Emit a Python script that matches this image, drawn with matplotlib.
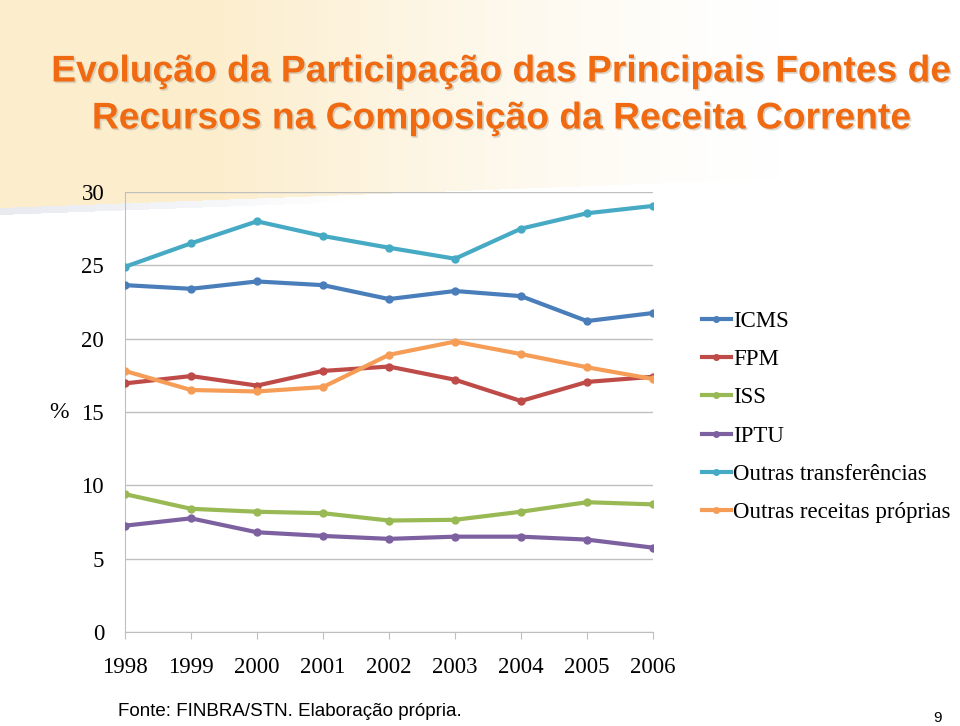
import numpy as np
import matplotlib
matplotlib.use("Agg")
import matplotlib.pyplot as plt
from matplotlib.lines import Line2D
import matplotlib.patheffects as pe

years = ["1998", "1999", "2000", "2001", "2002", "2003", "2004", "2005", "2006"]
icms = [23.65, 23.4, 23.9, 23.65, 22.7, 23.25, 22.9, 21.2, 21.75]
fpm = [16.95, 17.45, 16.8, 17.8, 18.1, 17.2, 15.75, 17.05, 17.4]
iss = [9.4, 8.4, 8.2, 8.1, 7.6, 7.65, 8.2, 8.85, 8.7]
iptu = [7.25, 7.75, 6.8, 6.55, 6.35, 6.5, 6.5, 6.3, 5.75]
outras_transf = [24.9, 26.5, 28.0, 27.0, 26.2, 25.45, 27.5, 28.55, 29.05]
outras_rec = [17.8, 16.5, 16.4, 16.7, 18.9, 19.8, 18.95, 18.05, 17.25]
series_names = ["ICMS", "FPM", "ISS", "IPTU", "Outras transferências", "Outras receitas próprias"]
colors = ["#4A7EBB", "#BE4B48", "#98B954", "#7D60A0", "#46AAC5", "#F59D56"]
yticks = [0, 5, 10, 15, 20, 25, 30]

W, H = 960, 726
fig = plt.figure(figsize=(W / 100, H / 100), dpi=100)
fig.patch.set_facecolor("white")

# background wedge
bg = fig.add_axes([0, 0, 1, 1], zorder=0)
bg.set_xlim(0, W); bg.set_ylim(H, 0); bg.axis("off")
xx, yy = np.meshgrid(np.arange(W) + 0.5, np.arange(H) + 0.5)
edge = 208 - 0.037 * xx
halpha = np.clip((780 - xx) / 560, 0, 1) ** 1.4 * 0.9
img = np.ones((H, W, 3))
beige = np.array([252, 236, 200]) / 255
shadow = np.array([232, 234, 240]) / 255
mask = (yy <= edge).astype(float) * halpha
smask = ((yy > edge) & (yy <= edge + 7)).astype(float) * np.clip((350 - xx) / 350, 0, 1)
for c in range(3):
    img[..., c] = 1 - mask * (1 - beige[c]) - smask * (1 - shadow[c])
bg.imshow(img, extent=(0, W, H, 0), aspect="auto")

# title
tfont = ["Liberation Sans", "DejaVu Sans"]
shadow_fx = [pe.withSimplePatchShadow(offset=(1.2, -1.2), shadow_rgbFace="#b8b0a0", alpha=0.5)]
for line, yc in [("Evolução da Participação das Principais Fontes de", 72),
                 ("Recursos na Composição da Receita Corrente", 119)]:
    fig.text(502 / W, 1 - yc / H, line, ha="center", va="center",
             fontsize=26.8, fontweight="bold", family=tfont, color="#F06A12",
             path_effects=shadow_fx)

# chart
ax = fig.add_axes([125 / W, 1 - 632 / H, (653 - 125) / W, (632 - 192) / H], zorder=2)
ax.patch.set_alpha(0)
x = np.arange(len(years))
data = [icms, fpm, iss, iptu, outras_transf, outras_rec]
for vals, col, name in zip(data, colors, series_names):
    ax.plot(x, vals, color=col, lw=3, marker="o", ms=5, label=name,
            solid_capstyle="round", zorder=3)
ax.set_xlim(0, len(years) - 1)
ax.set_ylim(0, 30)
ax.set_yticks(yticks)
ax.set_xticks(x)
sfont = ["Liberation Serif", "DejaVu Serif"]
ax.set_yticklabels([str(v) for v in yticks], family=sfont, fontsize=16.5)
ax.set_xticklabels(years, family=sfont, fontsize=16.5)
ax.grid(axis="y", color="#BFBFBF", lw=1)
ax.set_axisbelow(True)
for s in ["top", "right"]:
    ax.spines[s].set_visible(False)
for s in ["left", "bottom"]:
    ax.spines[s].set_color("#BFBFBF")
ax.tick_params(axis="y", length=0, pad=15)
ax.tick_params(axis="x", length=5, color="#BFBFBF", pad=13, direction="out")
ax.set_ylabel("%", family=sfont, fontsize=17, rotation=0, va="center")
ax.yaxis.set_label_coords(-0.125, 0.5)

handles = [Line2D([0], [0], color=c, lw=3, marker="o", ms=4) for c in colors]
fig.legend(handles, series_names, loc="center left", bbox_to_anchor=(702 / W, 1 - 417 / H),
           frameon=False, prop={"family": sfont, "size": 16.5}, handlelength=1.25,
           handletextpad=0.12, labelspacing=0.75, borderaxespad=0, borderpad=0)

fig.text(118 / W, 1 - 711 / H, "Fonte: FINBRA/STN. Elaboração própria.", ha="left", va="center",
         fontsize=13.5, family=tfont, color="black")
fig.text(937 / W, 1 - 718 / H, "9", ha="center", va="center", fontsize=11,
         family=tfont, color="black")

fig.savefig("out.png", dpi=100)
